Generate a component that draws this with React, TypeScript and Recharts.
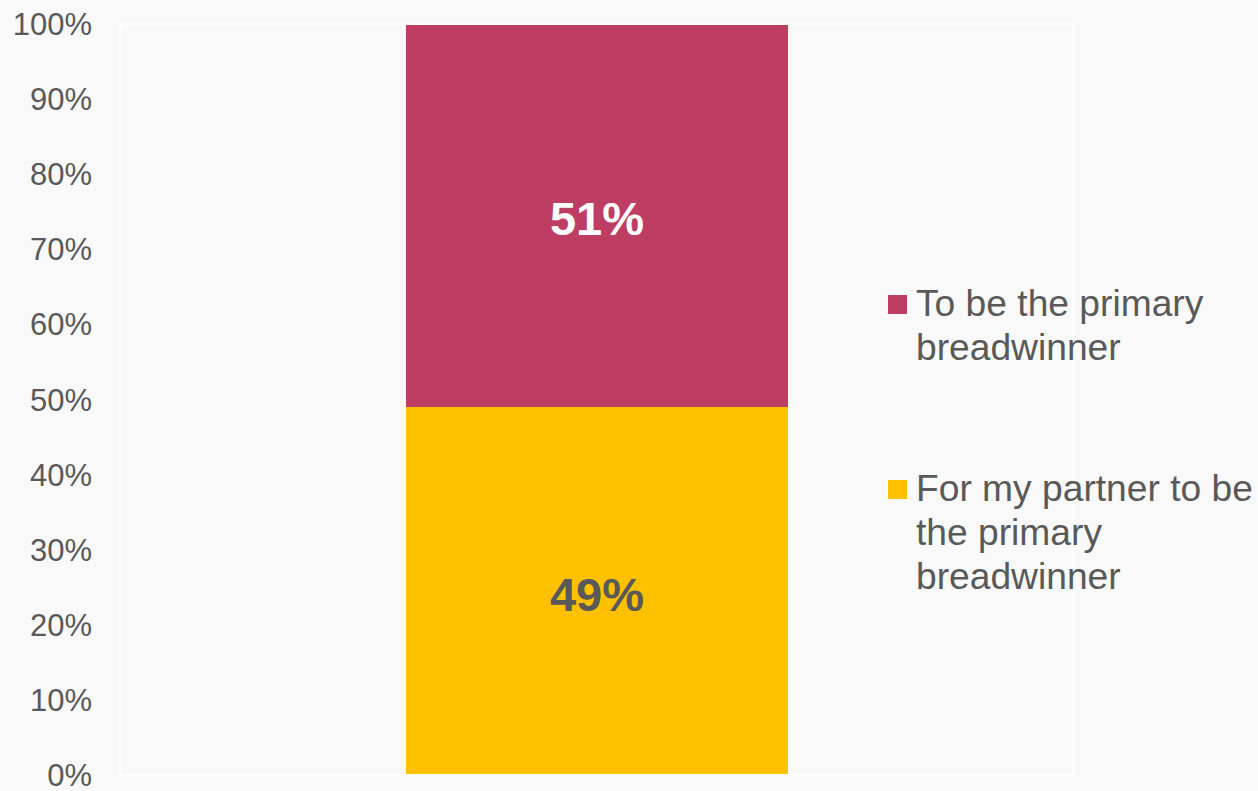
import React from 'react';
import { BarChart, Bar, XAxis, YAxis, LabelList, Legend } from 'recharts';

// Share of respondents by breadwinner preference
const categories = ['Respondents'];
const partnerValues = [0.49];
const selfValues = [0.51];
const yTicks = [0, 0.1, 0.2, 0.3, 0.4, 0.5, 0.6, 0.7, 0.8, 0.9, 1];

const seriesNames = {
  partner: 'For my partner to be the primary breadwinner',
  self: 'To be the primary breadwinner',
};

const COLORS = {
  self: '#BE3D62',
  partner: '#FFC000',
  text: '#595959',
  bg: '#F9F9F9',
  frame: '#FFFFFF',
};

const FONT = '"Liberation Sans", Arial, sans-serif';

const data = categories.map((c, i) => ({
  category: c,
  partner: partnerValues[i],
  self: selfValues[i],
}));

const pct = (v: number) => `${Math.round(v * 100)}%`;

const LegendContent = (props: any) => {
  const items = [...(props.payload || [])].reverse();
  return (
    <div style={{ fontFamily: FONT }}>
      {items.map((item: any, idx: number) => (
        <div
          key={item.value}
          style={{
            position: 'relative',
            paddingLeft: 28,
            marginBottom: idx === 0 ? 97 : 0,
            fontSize: 37.2,
            lineHeight: '44px',
            color: COLORS.text,
            width: 340,
          }}
        >
          <span
            style={{
              position: 'absolute',
              left: 0,
              top: 14,
              width: 19,
              height: 19,
              background: item.color,
            }}
          />
          {item.value}
        </div>
      ))}
    </div>
  );
};

const frameLine = { stroke: COLORS.frame, strokeWidth: 2 };

export default function App() {
  return (
    <div
      style={{
        position: 'absolute',
        left: 0,
        top: 0,
        width: 1258,
        height: 791,
        background: COLORS.bg,
        fontFamily: FONT,
      }}
    >
      <BarChart
        width={1258}
        height={791}
        data={data}
        margin={{ top: 23, right: 184, bottom: 15, left: 0 }}
      >
        <XAxis
          xAxisId="bottom"
          dataKey="category"
          tick={false}
          tickLine={false}
          height={1}
          axisLine={frameLine}
        />
        <XAxis
          xAxisId="top"
          orientation="top"
          dataKey="category"
          tick={false}
          tickLine={false}
          height={1}
          axisLine={frameLine}
        />
        <YAxis
          yAxisId="left"
          width={120}
          domain={[0, 1]}
          ticks={yTicks}
          tickFormatter={pct}
          tickLine={false}
          tickSize={0}
          tickMargin={28}
          interval={0}
          axisLine={frameLine}
          tick={{ fill: COLORS.text, fontSize: 31, fontFamily: FONT }}
        />
        <YAxis
          yAxisId="right"
          orientation="right"
          width={1}
          domain={[0, 1]}
          tick={false}
          tickLine={false}
          axisLine={frameLine}
        />
        <Bar
          xAxisId="bottom"
          yAxisId="left"
          dataKey="partner"
          name={seriesNames.partner}
          stackId="pref"
          fill={COLORS.partner}
          barSize={382}
          isAnimationActive={false}
        >
          <LabelList
            dataKey="partner"
            position="center"
            formatter={(v: any) => pct(Number(v))}
            fill={COLORS.text}
            fontSize={47}
            fontWeight="bold"
            fontFamily={FONT}
            dy={3}
          />
        </Bar>
        <Bar
          xAxisId="bottom"
          yAxisId="left"
          dataKey="self"
          name={seriesNames.self}
          stackId="pref"
          fill={COLORS.self}
          barSize={382}
          isAnimationActive={false}
        >
          <LabelList
            dataKey="self"
            position="center"
            formatter={(v: any) => pct(Number(v))}
            fill="#FFFFFF"
            fontSize={47}
            fontWeight="bold"
            fontFamily={FONT}
            dy={3}
          />
        </Bar>
        <Legend
          layout="vertical"
          align="center"
          verticalAlign="middle"
          content={<LegendContent />}
          wrapperStyle={{ left: 888, top: 281, width: 370, height: 'auto' }}
        />
      </BarChart>
    </div>
  );
}
